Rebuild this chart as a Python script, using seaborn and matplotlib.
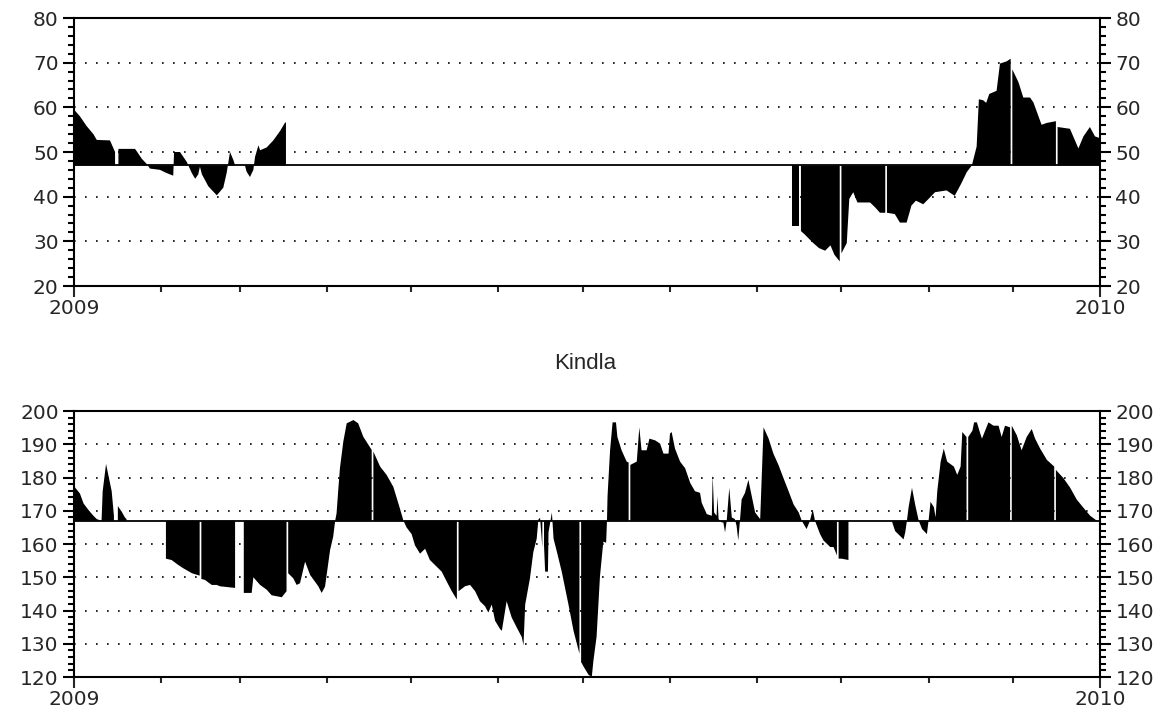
import numpy as np
import pandas as pd
import matplotlib
matplotlib.use("Agg")
import matplotlib.pyplot as plt
import seaborn as sns
from matplotlib.ticker import MultipleLocator

# Kindla - daily level 2009, shaded against a reference level

title = "Kindla"
year_labels = ["2009", "2010"]

# top panel: day of year (0 = 1 Jan 2009) and value, nan = missing day
top_days = [0, 2.1, 4.5, 6.9, 8.1, 12.8, 14.6, 15.2, 15.8, 21.7, 22.5, 24.1, 25.9, 27.0,
            30.6, 32.9, 35.3, 35.6, 37.7, 40.1, 41.9, 43.1, 44.2, 44.8, 45.5, 47.8,
            50.8, 53.1, 54.3, 55.5, 56.7, 57.3, 60.8, 61.4, 62.6, 63.8, 64.4, 65.6,
            66.2, 68.5, 70.9, 73.3, 75.1, 75.4,
            165,
            255.3, 258.0, 258.3, 258.6, 260, 263, 265, 267.2, 269.1, 270.5, 272.4,
            272.7, 273.0, 274.9, 275.8, 277.2, 278.7, 283.2, 285, 286.7, 288.6,
            288.9, 289.2, 292, 293.8, 296.2, 297.9, 299.5, 302.1, 304, 306.3, 310.4,
            313.3, 315.6, 317.6, 319.4, 321.1, 321.9, 323.4, 324.5, 325.6, 328.2,
            329.4, 331.8, 333.2, 333.5, 333.8, 336, 337.7, 340.1, 341.3, 344.2,
            346, 349.3, 349.6, 349.9, 354.3, 357.3, 359.1, 361.4, 363.2, 365]
top_vals = [59.5, 58, 55.8, 54, 52.7, 52.6, 50, np.nan, 50.7, 50.7, 50, 48.5, 47.3, 46.3,
            46, 45.3, 44.7, 50, 50, 47.8, 45.3, 44, 45, 46.7, 45, 42.3,
            40.3, 42, 45.3, 50, 48.2, 47, 47, 45.6, 44.4, 46, 48.9, 51.5,
            50.4, 51, 52.6, 54.7, 56.6, 56.6,
            np.nan,
            33.4, 33.4, np.nan, 32.3, 31.5, 29.6, 28.5, 27.9, 29.1, 27, 25.5,
            np.nan, 27.3, 29.6, 39.5, 41, 38.7, 38.7, 37.6, 36.4, 36.4,
            np.nan, 36.4, 36.1, 34.2, 34.2, 38, 39.1, 38.3, 39.5, 41, 41.4,
            40.2, 42.9, 45.5, 47, 51.2, 61.8, 61.6, 61, 63, 63.7,
            69.8, 70.3, 70.9, np.nan, 68.5, 65.6, 62.2, 62.2, 61.1, 56.1,
            56.5, 56.9, np.nan, 55.6, 55.2, 50.8, 53.5, 55.6, 53.5, 53.1]
top_base = 47

# bottom panel
bot_days = [0, 2.1, 3.4, 5.1, 6.9, 8.1, 9.8, 10.2, 11.4, 12.2, 13.4, 14.2, 14.9, 15.6,
            17.0, 18.1, 18.7,
            25,
            32.7, 34.7, 37.1, 38.9, 42.0, 44.7, 45.0, 45.3, 46.6, 49.0, 50.8, 51.9,
            57.3, 59, 60.4, 63.2, 63.8, 66.2, 68.5, 70.3, 73.9, 75.6, 75.9, 76.2,
            78.0, 79.2, 80.4, 82.2, 84.0, 86.9, 88.1, 89.3, 91.1, 92.2, 92.9, 93.4,
            94.0, 94.6, 95.8, 97.0, 99.4, 101.1, 102.9, 105.9, 106.2, 106.5, 108.9,
            111.2, 113.6, 116.0, 117.2, 118.3, 120.1, 121.3, 123.1, 124.9, 126.6,
            128.4, 130.8, 132.6, 134.4, 136.2, 136.5, 136.8, 139.1, 140.9, 142.7,
            144.4, 146.2, 147.4, 148.6, 149.8, 151.6, 152.2, 153.9, 155.7, 157.5,
            159.3, 159.9, 160.5, 162.2, 163.4, 164.6, 165.2, 165.8, 166.6, 166.9,
            167.2, 167.6, 168.6, 168.8, 170.0, 170.6, 171.8, 173.5, 175.9, 177.7,
            179.8, 180.1, 180.4, 181.3, 183.1, 184.2, 184.8, 185.9, 187.1, 188.3,
            189.3, 189.6, 189.8, 190.7, 191.6, 192.8, 193.3, 194.8, 196.6, 197.3,
            197.6, 197.9, 200.2, 201.1, 201.9, 203.7, 204.7, 206.7, 208.5, 209.7,
            211.5, 212.0, 212.6, 213.8, 215.6, 217.4, 219.2, 220.9, 222.7, 223.3,
            225.1, 226.9, 227.2, 227.7, 228.6, 228.9, 229.3, 230.4, 231.0, 231.6,
            232.2, 233.1, 234.0, 235.1, 235.7, 236.3, 236.9, 237.5, 238.7, 239.9,
            241.1, 242.3, 244.1, 245.3, 247.1, 248.8, 250.6, 252.4, 254.2, 256.0,
            257.8, 258.9, 260.6, 261.8, 262.8, 263.6, 265.4, 266.6, 269.0, 270.2,
            271.4, 271.7, 272.0, 273.1, 275.5,
            283,
            290.9, 292.1, 293.9, 295.1, 295.7, 296.3, 296.9, 298.1, 299.3, 300.5,
            301.7, 303.4, 304.0, 304.7, 305.9, 306.5, 307.1, 308.3, 309.4, 310.6,
            313.0, 314.2, 315.4, 316.0, 317.5, 317.8, 318.1, 319.6, 320.2, 321.2,
            322.4, 323.0, 325.3, 327.1, 328.9, 330.0, 331.2, 333.0, 333.3, 333.6,
            335.4, 337.1, 338.9, 340.7, 341.9, 343.7, 346.1, 348.7, 349.0, 349.3,
            352.0, 354.4, 356.7, 359.1, 361.5, 363.9, 365]
bot_vals = [177.4, 175.2, 172.2, 170.3, 168.5, 167.5, 167, 175.9, 184.1, 180.8, 175.9, 168.5, np.nan, 171.4,
            169.7, 168, 167.5,
            np.nan,
            155.6, 155.2, 153.7, 152.7, 151.2, 150.5, np.nan, 149.5, 149.2, 147.7, 147.7, 147.3,
            146.8, np.nan, 145.3, 145.3, 150, 147.7, 146.3, 144.6, 144, 145.8, np.nan, 151.2,
            149.7, 147.7, 148.2, 154.7, 150.7, 147.3, 145.3, 147.2, 158.2, 162.2, 167, 169.2,
            176.2, 182.8, 190.8, 196.3, 197.3, 196.3, 192.3, 188.3, np.nan, 187.8, 183.3,
            180.8, 177.2, 170.5, 167, 165, 163, 159.6, 157.1, 158.6, 155.2,
            153.7, 151.7, 148.7, 145.8, 143.3, np.nan, 145.8, 147.3, 147.7, 145.8,
            142.8, 141.3, 139.4, 141.8, 136.9, 134.4, 133.9, 142.8, 137.9, 134.9,
            132, 129.5, 141.8, 149.7, 157.6, 161.6, 167.4, 167.9, 159, np.nan,
            159.6, 151.7, 151.7, 163.5, 169.5, 161.6, 157.6, 151.7, 141.8, 133.9,
            127, np.nan, 124.5, 123.1, 120.6, 120.1, 125.1, 132.1, 150.2, 160.7,
            160.4, 167, 174.4, 188.2, 196.6, 196.6, 192.2, 188.2, 184.8, 184.5,
            np.nan, 183.8, 184.8, 195.1, 188.2, 188.2, 191.7, 191.2, 190.2, 187.2,
            187.2, 193.2, 193.7, 188.7, 184.8, 182.8, 178.4, 175.9, 175.4, 172.4,
            169, 168.5, 180.8, 169.5, 168.5, 174.4, 167.5, 166.5, 166.5, 163.5,
            167, 176.9, 168, 167.5, 165.5, 161.1, 167, 173.4, 175.4, 179.3,
            174.4, 169.5, 167.5, 195.1, 191.7, 187.2, 183.8, 179.8, 175.9, 171.9,
            169.5, 167, 164.5, 167, 170.4, 167, 163, 161.1, 159.1, 159.1,
            156.6, np.nan, 155.6, 155.6, 155.2,
            np.nan,
            167, 163.9, 162.4, 161.4, 163.5, 167, 171.1, 176.9, 171.6, 167,
            164.5, 163, 167, 172.7, 171.1, 168, 175.9, 184.8, 188.7, 184.8,
            183.3, 180.8, 183.3, 193.7, 192.2, np.nan, 192.2, 194.1, 196.6, 196.6,
            193.2, 191.7, 196.6, 195.6, 195.6, 192.2, 195.6, 195.1, np.nan, 195.6,
            192.7, 188.2, 192.2, 194.6, 191.7, 188.7, 185.3, 183.3, np.nan, 182.3,
            179.8, 176.9, 173.4, 170.9, 168.5, 167, 167]
bot_base = 167

start = pd.Timestamp("2009-01-01")
month_days = (pd.date_range("2009-01-01", "2010-01-01", freq="MS") - start).days.values

sns.set_style("ticks")
plt.rcParams['font.family'] = ['DejaVu Sans']
plt.rcParams['font.size'] = 14.5


def draw_panel(ax, days, vals, base, ylo, yhi, minor):
    days = np.array(days, dtype=float)
    vals = np.array(vals, dtype=float)
    ax.fill_between(days, vals, base, color="black", linewidth=0, zorder=1)
    ax.axhline(base, color="black", lw=1.3, zorder=4)
    ax.set_xlim(0, 365)
    ax.set_ylim(ylo, yhi)
    ax.set_yticks(np.arange(ylo, yhi + 1, 10))
    ax.yaxis.set_minor_locator(MultipleLocator(minor))
    ax.set_xticks([0, 365])
    ax.set_xticklabels(year_labels)
    ax.set_xticks(month_days[1:-1], minor=True)
    ax.grid(axis="y", which="major", color="black", lw=1.2, linestyle=(0, (1, 5.6)))
    ax.set_axisbelow(False)
    for s in ax.spines.values():
        s.set_linewidth(1.5)
        s.set_color("black")
        s.set_zorder(5)
    ax.tick_params(axis="y", which="both", left=True, right=True,
                   labelleft=True, labelright=True, direction="out",
                   color="black", width=1.5, labelsize=14.5, pad=3)
    ax.tick_params(axis="y", which="major", length=8)
    ax.tick_params(axis="y", which="minor", length=4)
    ax.tick_params(axis="x", which="major", length=8, width=1.5, pad=1, labelsize=14.5)
    ax.tick_params(axis="x", which="minor", length=4, width=1.5)


fig = plt.figure(figsize=(11.71, 7.15), dpi=100)
ax1 = fig.add_axes([0.0632, 0.6, 0.8762, 0.3748])
ax2 = fig.add_axes([0.0632, 0.0531, 0.8762, 0.372])

draw_panel(ax1, top_days, top_vals, top_base, 20, 80, 2)
draw_panel(ax2, bot_days, bot_vals, bot_base, 120, 200, 2)

fig.text(0.5, 0.492, title, ha="center", va="center", fontsize=16,
         family=["Liberation Sans", "DejaVu Sans"])

fig.savefig("out.png", dpi=100)
